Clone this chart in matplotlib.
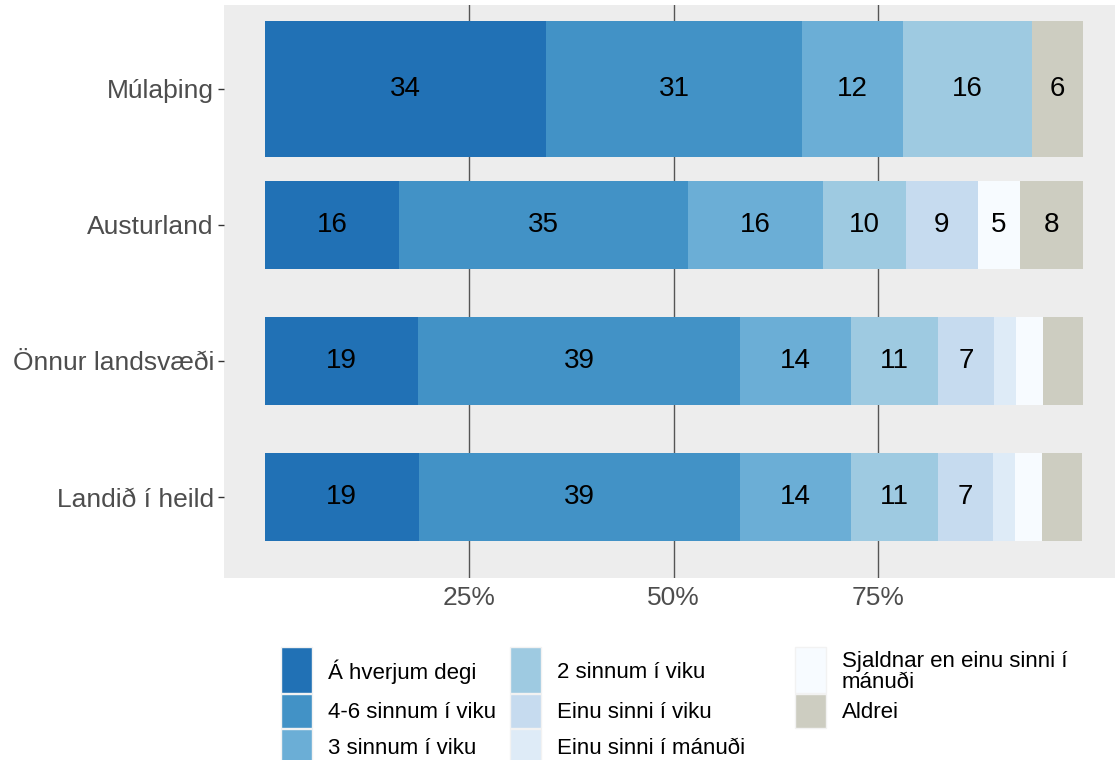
import matplotlib
matplotlib.use("Agg")
import matplotlib.pyplot as plt
from matplotlib.patches import Rectangle
import numpy as np

plt.rcParams['font.family'] = ['Liberation Sans', 'DejaVu Sans']

categories = ["Múlaþing", "Austurland", "Önnur landsvæði", "Landið í heild"]
series = ["Á hverjum degi", "4-6 sinnum í viku", "3 sinnum í viku", "2 sinnum í viku",
          "Einu sinni í viku", "Einu sinni í mánuði", "Sjaldnar en einu sinni í mánuði", "Aldrei"]
legend_labels = ["Á hverjum degi", "4-6 sinnum í viku", "3 sinnum í viku", "2 sinnum í viku",
                 "Einu sinni í viku", "Einu sinni í mánuði", "Sjaldnar en einu sinni í\nmánuði", "Aldrei"]
colors = ["#2171B5", "#4292C6", "#6BAED6", "#9ECAE1", "#C6DBEF", "#DEEBF7", "#F7FBFF", "#CDCDC1"]

# percentages per category (rows) and series (columns)
mulathing = [34.4, 31.3, 12.4, 15.7, 0.0, 0.0, 0.0, 6.2]
austurland = [16.5, 35.3, 16.5, 10.1, 8.8, 0.0, 5.1, 7.7]
onnur = [18.8, 39.3, 13.6, 10.6, 6.9, 2.7, 3.3, 4.8]
landid = [18.9, 39.2, 13.6, 10.6, 6.7, 2.8, 3.3, 4.8]
bar_heights = [1.0, 0.65, 0.65, 0.65]

values = np.array([mulathing, austurland, onnur, landid]) / 100.0
tick_pos = [0.25, 0.5, 0.75]
tick_labels = ["25%", "50%", "75%"]

W, H = 1115, 760
fig = plt.figure(figsize=(W / 100, H / 100), dpi=100)
# panel in pixel coordinates
px_left, px_right, px_top, px_bottom = 223.6, 1123.4, 5, 578
ax = fig.add_axes([px_left / W, 1 - px_bottom / H, (px_right - px_left) / W, (px_bottom - px_top) / H])
ax.set_facecolor("#EDEDED")
for s in ax.spines.values():
    s.set_visible(False)

ypos = np.arange(len(categories))
left = np.zeros(len(categories))
for j, name in enumerate(series):
    v = values[:, j]
    ax.barh(ypos, v, left=left, height=bar_heights, color=colors[j], linewidth=0, zorder=2)
    for i in range(len(categories)):
        if v[i] * 100 >= 5:
            ax.text(left[i] + v[i] / 2, ypos[i], f"{v[i]*100:.0f}", ha="center", va="center",
                    fontsize=20, color="black", zorder=3)
    left += v

ax.set_xlim(-0.05, 1.05)
ax.set_ylim(3.595, -0.6155)
ax.set_xticks(tick_pos)
ax.set_xticklabels(tick_labels)
ax.set_yticks(ypos)
ax.set_yticklabels(categories)
ax.grid(axis="x", color="#555555", linewidth=1.0, zorder=1)
ax.set_axisbelow(True)
ax.tick_params(axis="x", length=0, pad=6, labelsize=19, labelcolor="#4D4D4D")
ax.tick_params(axis="y", length=4, width=1, color="#333333", pad=3, labelsize=19, labelcolor="#4D4D4D")

# legend (3 columns, by column, rows share heights)
col_key_x = [281, 510, 795]
key_w = 31
row_edges = [(647, 693), (694, 728), (729, 763)]
for k, lab in enumerate(legend_labels):
    c, r = divmod(k, 3)
    y0, y1 = row_edges[r]
    x0 = col_key_x[c]
    fig.patches.append(Rectangle((x0 / W, 1 - y1 / H), key_w / W, (y1 - y0) / H,
                                 transform=fig.transFigure, facecolor=colors[k],
                                 edgecolor="#F2F2F2", linewidth=1.0))
    fig.text((x0 + key_w + 16) / W, 1 - ((y0 + y1) / 2 + 2) / H, lab, ha="left", va="center",
             fontsize=16, color="black", linespacing=1.05)

fig.savefig("out.png", dpi=100, facecolor="white")
